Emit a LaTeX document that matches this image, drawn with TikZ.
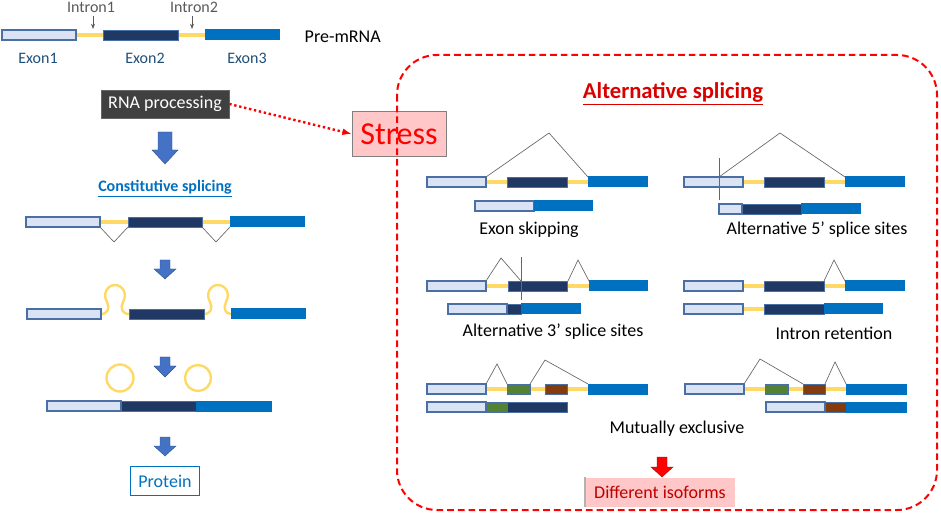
\documentclass[tikz,border=0pt]{standalone}
\usepackage{fontspec}
\setmainfont{Carlito}
\usetikzlibrary{arrows.meta}
\definecolor{eA}{HTML}{DAE3F3}
\definecolor{eAb}{HTML}{4A6FA5}
\definecolor{eB}{HTML}{203864}
\definecolor{eC}{HTML}{0070C0}
\definecolor{intr}{HTML}{FFD966}
\definecolor{grn}{HTML}{548235}
\definecolor{brn}{HTML}{843C0C}
\definecolor{arr}{HTML}{4472C4}
\definecolor{lbl}{HTML}{1F4E79}
\newcommand\exA[3]{\filldraw[fill=eA,draw=eAb,line width=0.8pt] (#1,#3-5) rectangle (#2,#3+5);}
\newcommand\exB[3]{\filldraw[fill=eB,draw=eAb,line width=0.5pt] (#1,#3-5) rectangle (#2,#3+5);}
\newcommand\exC[3]{\fill[eC] (#1,#3-5.5) rectangle (#2,#3+5.5);}
\newcommand\exG[3]{\filldraw[fill=grn,draw=eAb,line width=0.5pt] (#1,#3-5) rectangle (#2,#3+5);}
\newcommand\exR[3]{\filldraw[fill=brn,draw=eAb,line width=0.5pt] (#1,#3-5) rectangle (#2,#3+5);}
\newcommand\intr[3]{\draw[intr,line width=3pt] (#1,#3) -- (#2,#3);}
% block arrow: x, ytop, yneck, ytip, half shaft, half head, colour
\newcommand\barr[7]{\filldraw[fill=#7,draw=#7!70!black,line width=0.3pt] (#1-#5,#2) -- (#1+#5,#2) -- (#1+#5,#3) -- (#1+#6,#3) -- (#1,#4) -- (#1-#6,#3) -- (#1-#5,#3) -- cycle;}
\tikzset{
 spl/.style={draw=gray!80!black,line width=0.5pt},
 lab/.style={font=\fontsize{12}{14}\selectfont,text=lbl},
 capt/.style={font=\fontsize{13.5}{16}\selectfont}
}
\begin{document}
\begin{tikzpicture}[x=0.75pt,y=-0.75pt]
\useasboundingbox (0,0) rectangle (941,523);
% top pre-mRNA
\intr{76}{103}{35}\intr{178}{205}{35}
\exA{2}{76}{35}\exB{103}{178}{35}\exC{205}{280}{35}
\node[lab] (e1) at (38,58) {Exon1};
\node[lab] (e2) at (145,58) {Exon2};
\node[lab] (e3) at (247,58) {Exon3};
\node[lab,text=gray!70!black] (i1) at (91,7) {Intron1};
\node[lab,text=gray!70!black] (i2) at (194,7) {Intron2};
\coordinate (i1e) at (93,29); \coordinate (i2e) at (192,29);
\draw[-{Stealth[length=4pt]},gray!70!black] (93,16) -- (i1e);
\draw[-{Stealth[length=4pt]},gray!70!black] (192,16) -- (i2e);
\node[capt,anchor=west] (pre) at (300,37) {Pre-mRNA};
% RNA processing
\node[fill=black!75,draw=black!60,text=white,minimum width=128*0.75pt,minimum height=28*0.75pt,font=\fontsize{13.5}{16}\selectfont] (rna) at (165,104) {RNA processing};
\node[fill=red!22,draw=gray,minimum width=94*0.75pt,minimum height=45*0.75pt,text=red,font=\fontsize{24}{26}\selectfont] (stress) at (399,134) {Stress};
\draw[red,line width=1.8pt,dotted,-{Latex[length=7pt]}] (rna.east) -- (stress.west);
% constitutive
\barr{165}{132}{150}{164}{7}{13}{arr}
\node[font=\bfseries\fontsize{12}{14}\selectfont,text=eC] (cs) at (165,189) {\underline{Constitutive splicing}};
\intr{100}{128}{222}\intr{202}{230}{222}
\exA{26}{100}{222}\exB{128}{202}{222}\exC{230}{305}{222}
\draw[spl] (100,227) -- (114,242) -- (128,227);
\draw[spl] (202,227) -- (216,242) -- (230,227);
\barr{165}{260}{269}{279}{5}{11}{arr}
\draw[intr,line width=1.8pt] (101,314) .. controls (108,314) and (110,308) .. (107,302) .. controls (102,293) and (108,285) .. (115,285) .. controls (122,285) and (128,293) .. (123,302) .. controls (120,308) and (122,314) .. (129,314);
\draw[intr,line width=1.8pt] (204,314) .. controls (211,314) and (213,308) .. (210,302) .. controls (205,293) and (211,285) .. (218,285) .. controls (225,285) and (231,293) .. (226,302) .. controls (223,308) and (225,314) .. (231,314);
\exA{27}{101}{314}\exB{129}{204}{314}\exC{231}{306}{314}
\barr{165}{357}{366}{377}{5}{11}{arr}
\draw[intr,line width=1.8pt] (120,378) circle (13.5);
\draw[intr,line width=1.8pt] (198,378) circle (13);
\exA{47}{121}{406}\exB{121}{196}{406}\exC{196}{272}{406}
\barr{165}{437}{446}{456}{5}{11}{arr}
\node[draw=eC,line width=0.8pt,text=eC,minimum width=69*0.75pt,minimum height=29*0.75pt,font=\fontsize{13.5}{16}\selectfont] (prot) at (165,481) {Protein};
% right panel
\draw[red,line width=1.5pt,dash pattern=on 5pt off 3pt,rounded corners=30pt] (397,55) rectangle (937,510);
\node[font=\bfseries\fontsize{17}{19}\selectfont,text=red!85!black] (as) at (673,94) {\underline{Alternative splicing}};
% exon skipping
\intr{486}{507}{182}\intr{567}{588}{182}
\exA{427}{486}{182}\exB{507}{567}{182}\exC{588}{648}{182}
\draw[spl] (486,177) -- (549,133) -- (588,177);
\exA{475}{534}{206}\exC{534}{593}{206}
\node[capt] (l1) at (529,230) {Exon skipping};
% alt 5'
\intr{743}{764}{182}\intr{824}{845}{182}
\exA{684}{743}{182}\exB{764}{824}{182}\exC{845}{905}{182}
\draw[spl] (719,158) -- (719,200);
\draw[spl] (719,177) -- (780,133) -- (845,177);
\exA{719}{742}{209}\exB{742}{801}{209}\exC{801}{861}{209}
\node[capt] (l2) at (817,230) {Alternative 5’ splice sites};
% alt 3'
\intr{486}{508}{286}\intr{567}{589}{286}
\exA{427}{486}{286}\exB{508}{567}{286}\exC{589}{648}{286}
\draw[spl] (486,281) -- (501,258) -- (521,281);
\draw[spl] (521,257) -- (521,300);
\draw[spl] (568,281) -- (578,260) -- (589,281);
\exA{448}{507}{309}\exB{507}{521}{309}\exC{521}{581}{309}
\node[capt] (l3) at (553,332) {Alternative 3’ splice sites};
% intron retention
\intr{743}{764}{286}\intr{824}{845}{286}
\exA{684}{743}{286}\exB{764}{824}{286}\exC{845}{905}{286}
\draw[spl] (824,281) -- (834,260) -- (845,281);
\intr{743}{764}{309}
\exA{684}{743}{309}\exB{764}{824}{309}\exC{824}{883}{309}
\node[capt] (l4) at (834,333) {Intron retention};
% mutually exclusive left
\intr{486}{588}{389}
\exA{427}{486}{389}\exG{507}{530}{389}\exR{545}{567}{389}\exC{588}{648}{389}
\draw[spl] (486,384) -- (497,364) -- (507,384);
\draw[spl] (530,384) -- (545,360) -- (588,384);
\exA{427}{486}{407}\exG{486}{507}{407}\exB{507}{567}{407}
% right
\intr{744}{846}{389}
\exA{685}{744}{389}\exG{765}{788}{389}\exR{803}{825}{389}\exC{846}{907}{389}
\draw[spl] (744,384) -- (760,359) -- (803,384);
\draw[spl] (825,384) -- (835,362) -- (846,384);
\exA{766}{825}{407}\exR{825}{846}{407}\exC{846}{907}{407}
\node[capt] (l5) at (677,429) {Mutually exclusive};
\barr{662}{457}{467}{477}{5}{11}{red}
\node[fill=red!22,minimum width=150*0.75pt,minimum height=29*0.75pt,text=red!75!black,font=\fontsize{13.5}{16}\selectfont] (iso) at (660,492) {Different isoforms};
\draw[gray!60,line width=1.5pt] (iso.north west) -- (iso.south west);
\end{tikzpicture}
\end{document}
